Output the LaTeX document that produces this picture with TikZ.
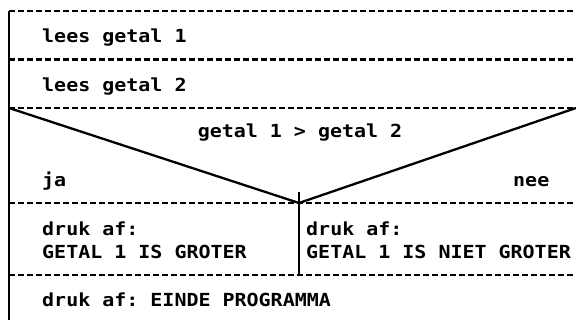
\documentclass[tikz,border=0pt]{standalone}
\usepackage{fontspec}
\setmonofont[FakeStretch=1.11]{DejaVu Sans Mono}
\begin{document}
\begin{tikzpicture}[x=1pt,y=-1pt,
  lbl/.style={anchor=base west,inner sep=0pt,font=\ttfamily\bfseries\fontsize{18}{22}\selectfont},
  sep/.style={line width=2.2pt,dash pattern=on 6pt off 3pt},
  solid line/.style={line width=2.6pt}]
\useasboundingbox (0,0) rectangle (576,320);
% coordinates
\coordinate (tl) at (9,11);
\coordinate (tr) at (576,11);
\coordinate (l2) at (9,59.5);
\coordinate (r2) at (576,59.5);
\coordinate (l3) at (9,108);
\coordinate (r3) at (576,108);
\coordinate (l4) at (9,203);
\coordinate (r4) at (576,203);
\coordinate (v) at (299,203);
\coordinate (vt) at (299,192);
\coordinate (vb) at (299,275);
\coordinate (l5) at (9,275);
\coordinate (r5) at (576,275);
\coordinate (bl) at (9,320);
% separators
\draw[sep] (tl) -- (tr);
\draw[sep] (l2) -- (r2);
\draw[sep] (l3) -- (r3);
\draw[sep] (l4) -- (r4);
\draw[sep] (l5) -- (r5);
% solid lines
\draw[solid line] (tl) -- (bl);
\draw[line width=2.3pt] (l3) -- (v) -- (r3);
\draw[solid line] (vt) -- (vb);
% texts
\node[lbl] (t1) at (42,43) {lees getal 1};
\node[lbl] (t2) at (42,91.5) {lees getal 2};
\node[lbl,anchor=base] (cond) at (300,138) {getal 1 > getal 2};
\node[lbl] (ja) at (42,187) {ja};
\node[lbl] (nee) at (513,187) {nee};
\node[lbl] (d1) at (42,236) {druk af:};
\node[lbl] (g1) at (42,259) {GETAL 1 IS GROTER};
\node[lbl] (d2) at (306,236) {druk af:};
\node[lbl] (g2) at (306,259) {GETAL 1 IS NIET GROTER};
\node[lbl] (end) at (42,307) {druk af: EINDE PROGRAMMA};
\end{tikzpicture}
\end{document}
